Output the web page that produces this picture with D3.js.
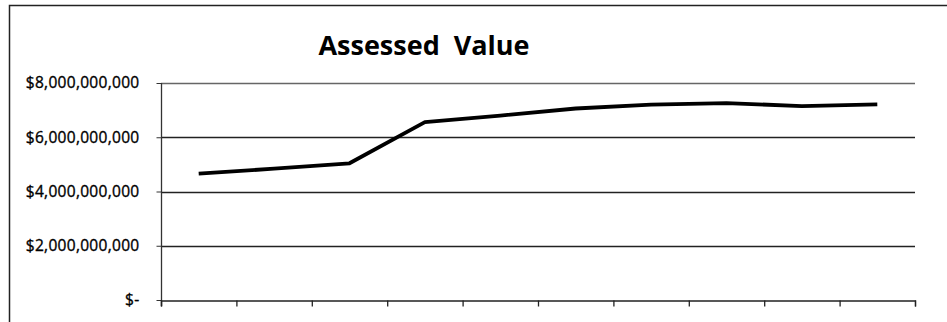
<!DOCTYPE html>
<html>
<head>
<meta charset="utf-8">
<script src="https://cdn.jsdelivr.net/npm/d3@7"></script>
<style>
  body { margin: 0; background: #fff; }
  text { font-family: "Open Sans", sans-serif; }
</style>
</head>
<body>
<div id="chart"></div>
<script>
// periods along the x axis (no labels are printed on the chart)
const periods = [1, 2, 3, 4, 5, 6, 7, 8, 9, 10];
// assessed value, dollars
const values = [4.66e9, 4.84e9, 5.04e9, 6.56e9, 6.80e9, 7.06e9, 7.20e9, 7.26e9, 7.15e9, 7.21e9];
const yTicks = [0, 2e9, 4e9, 6e9, 8e9];
const title = "Assessed  Value";

const width = 947;
const height = 322;

const svg = d3.select("#chart")
  .append("svg")
  .attr("width", width)
  .attr("height", height);

// chart border (top and left edges visible in the scan)
svg.append("path")
  .attr("d", "M9.5,340 V5.5 H960")
  .attr("fill", "none")
  .attr("stroke", "#222")
  .attr("stroke-width", 1.5);

const xEdge = d3.scaleLinear()
  .domain([0, periods.length])
  .range([161, 915]);

const yVal = d3.scaleLinear()
  .domain([0, 8e9])
  .range([300, 83]);

// gridlines
svg.append("g")
  .selectAll("line")
  .data(yTicks.filter(d => d > 0)).enter()
  .append("line")
  .attr("x1", 161)
  .attr("x2", 915)
  .attr("y1", d => Math.round(yVal(d)) + 0.5)
  .attr("y2", d => Math.round(yVal(d)) + 0.5)
  .attr("stroke", d => d === 8e9 ? "#666" : "#222")
  .attr("stroke-width", 1.3);

const fmt = d => d === 0 ? "$-" : "$" + d3.format(",")(d);

const yAxis = svg.append("g")
  .attr("transform", "translate(161.5,0)")
  .call(d3.axisLeft(yVal).tickValues(yTicks).tickSize(5).tickPadding(17).tickFormat(fmt));
yAxis.select(".domain").attr("d", "M0,83V306").attr("stroke", "#333").attr("stroke-width", 1.3);
yAxis.selectAll(".tick line").attr("stroke", "#333");
yAxis.selectAll("text")
  .attr("font-size", 15.5)
  .attr("letter-spacing", 0.3)
  .attr("fill", "#000")
  .attr("stroke", "#000")
  .attr("stroke-width", 0.35)
  .attr("font-family", "Open Sans, sans-serif");

const xAxis = svg.append("g")
  .attr("transform", "translate(0,300.5)")
  .call(d3.axisBottom(xEdge).tickValues(d3.range(periods.length + 1)).tickSize(6).tickFormat(""));
xAxis.select(".domain").attr("stroke", "#222").attr("stroke-width", 1.3);
xAxis.selectAll(".tick line").attr("stroke", "#222").attr("stroke-width", 1.3);

// the value line
const line = d3.line()
  .x((d, i) => xEdge(i + 0.5))
  .y(d => yVal(d));

svg.append("path")
  .datum(values)
  .attr("d", line)
  .attr("fill", "none")
  .attr("stroke", "#000")
  .attr("stroke-width", 3.8)
  .attr("stroke-linejoin", "round");

svg.append("text")
  .attr("x", 424)
  .attr("y", 55)
  .attr("text-anchor", "middle")
  .attr("font-size", 27)
  .attr("font-weight", "bold")
  .attr("fill", "#000")
  .style("white-space", "pre")
  .text(title);
</script>
</body>
</html>
